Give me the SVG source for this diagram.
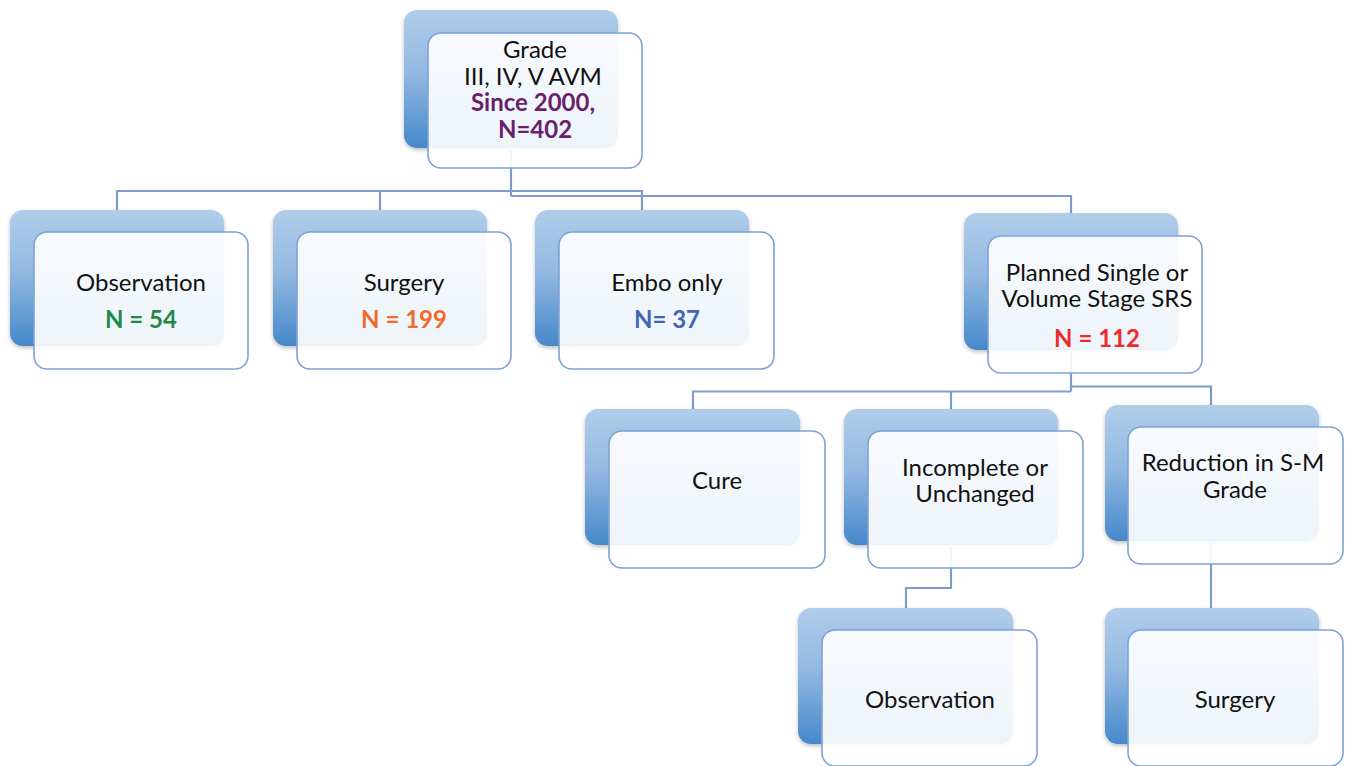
<svg xmlns="http://www.w3.org/2000/svg" width="1350" height="766" viewBox="0 0 1350 766">
<defs>
<linearGradient id="bk" x1="0" y1="0" x2="0" y2="1">
<stop offset="0" stop-color="#b1cdea"/>
<stop offset="0.45" stop-color="#93b9e2"/>
<stop offset="1" stop-color="#4588ca"/>
</linearGradient>
<filter id="sh" x="-10%" y="-10%" width="120%" height="125%">
<feDropShadow dx="0" dy="2" stdDeviation="2" flood-color="#000" flood-opacity="0.25"/>
</filter>
</defs>
<style>
.back{fill:url(#bk);filter:url(#sh)}
.front{fill:#ffffff;fill-opacity:0.9;stroke:#7ea2d3;stroke-width:1.6}
.t{font-family:Lato,"Open Sans","Liberation Sans",sans-serif;font-size:24px;fill:#111;text-anchor:middle}
.b{font-weight:bold}
.conn{fill:none;stroke:#7e9cc9;stroke-width:2.2}
</style>
<rect width="1350" height="766" fill="#ffffff"/>
<g id="connectors">
<path class="conn" d="M511 150 V196 M117 210 V191 H642 V210 M380 191 V210 M511 196 H1071 V213"/>
<path class="conn" d="M1071 352 V391.5 M693 409 V391.5 H1071 M951 391.5 V409 M1071 386.5 H1211 V405"/>
<path class="conn" d="M951 546 V588 H906 V608"/>
<path class="conn" d="M1211 542 V608"/>
</g>
<g id="root">
<rect class="back" x="404" y="10" width="214" height="138" rx="13"/>
<rect class="front" x="428" y="33" width="214" height="135" rx="13"/>
<text class="t" x="535" y="58">Grade</text>
<text class="t" x="533" y="85">III, IV, V AVM</text>
<text class="t b" x="533" y="111" style="fill:#6a1f6b">Since 2000,</text>
<text class="t b" x="535" y="138" style="fill:#6a1f6b">N=402</text>
</g>
<g id="observation1">
<rect class="back" x="10" y="210" width="214" height="136" rx="13"/>
<rect class="front" x="34" y="232" width="214" height="137" rx="13"/>
<text class="t" x="141" y="291">Observation</text>
<text class="t b" x="141" y="328" style="fill:#1f8a45">N = 54</text>
</g>
<g id="surgery1">
<rect class="back" x="273" y="210" width="214" height="136" rx="13"/>
<rect class="front" x="297" y="232" width="214" height="137" rx="13"/>
<text class="t" x="404" y="291">Surgery</text>
<text class="t b" x="404" y="328" style="fill:#f26a2a">N = 199</text>
</g>
<g id="embo">
<rect class="back" x="535" y="210" width="214" height="136" rx="13"/>
<rect class="front" x="559" y="232" width="215" height="137" rx="13"/>
<text class="t" x="667" y="291">Embo only</text>
<text class="t b" x="667" y="328" style="fill:#4565b3">N= 37</text>
</g>
<g id="planned">
<rect class="back" x="964" y="213" width="214" height="137" rx="13"/>
<rect class="front" x="988" y="236" width="214" height="137" rx="13"/>
<text class="t" x="1097" y="281">Planned Single or</text>
<text class="t" x="1097" y="307">Volume Stage SRS</text>
<text class="t b" x="1097" y="347" style="fill:#ee2a2a">N = 112</text>
</g>
<g id="cure">
<rect class="back" x="585" y="409" width="215" height="136" rx="13"/>
<rect class="front" x="609" y="431" width="216" height="137" rx="13"/>
<text class="t" x="717" y="489">Cure</text>
</g>
<g id="incomplete">
<rect class="back" x="844" y="409" width="214" height="136" rx="13"/>
<rect class="front" x="868" y="431" width="215" height="137" rx="13"/>
<text class="t" x="975" y="476">Incomplete or</text>
<text class="t" x="975" y="502">Unchanged</text>
</g>
<g id="reduction">
<rect class="back" x="1105" y="405" width="214" height="136" rx="13"/>
<rect class="front" x="1128" y="427" width="215" height="137" rx="13"/>
<text class="t" x="1233" y="471">Reduction in S-M</text>
<text class="t" x="1235" y="498">Grade</text>
</g>
<g id="observation2">
<rect class="back" x="798" y="608" width="215" height="136" rx="13"/>
<rect class="front" x="822" y="630" width="215" height="136" rx="13"/>
<text class="t" x="930" y="708">Observation</text>
</g>
<g id="surgery2">
<rect class="back" x="1105" y="608" width="214" height="136" rx="13"/>
<rect class="front" x="1128" y="630" width="215" height="136" rx="13"/>
<text class="t" x="1235" y="708">Surgery</text>
</g>
</svg>
